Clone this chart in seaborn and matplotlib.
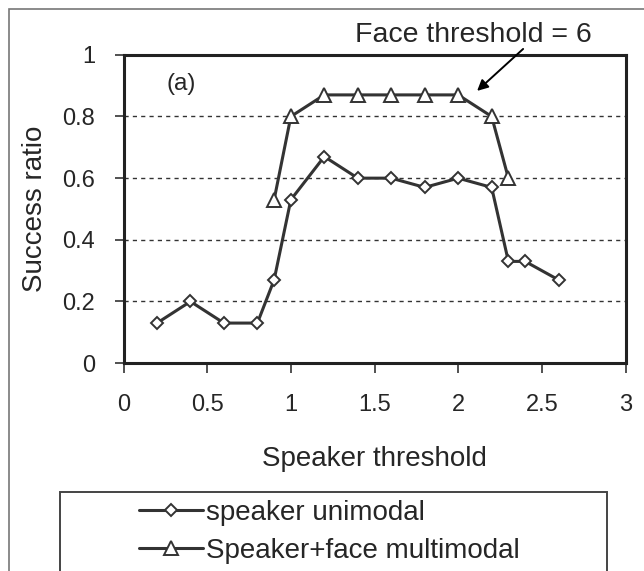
import numpy as np
import pandas as pd
import seaborn as sns
import matplotlib.pyplot as plt
from matplotlib.patches import Rectangle

# Data
uni_x = [0.2, 0.4, 0.6, 0.8, 0.9, 1.0, 1.2, 1.4, 1.6, 1.8, 2.0, 2.2, 2.3, 2.4, 2.6]
uni_y = [0.13, 0.20, 0.13, 0.13, 0.27, 0.53, 0.67, 0.60, 0.60, 0.57, 0.60, 0.57, 0.33, 0.33, 0.27]
multi_x = [0.9, 1.0, 1.2, 1.4, 1.6, 1.8, 2.0, 2.2, 2.3]
multi_y = [0.53, 0.80, 0.87, 0.87, 0.87, 0.87, 0.87, 0.80, 0.60]
x_ticks = [0, 0.5, 1, 1.5, 2, 2.5, 3]
x_tick_labels = ["0", "0.5", "1", "1.5", "2", "2.5", "3"]
y_ticks = [0, 0.2, 0.4, 0.6, 0.8, 1]
y_tick_labels = ["0", "0.2", "0.4", "0.6", "0.8", "1"]

sns.set_style("white")
plt.rcParams['font.family'] = ['Liberation Sans', 'DejaVu Sans']

fig = plt.figure(figsize=(6.44, 5.71), dpi=100)
ax = fig.add_axes([0.1918, 0.364, 0.7795, 0.54])

# Outer frame of the figure
fig.patches.append(Rectangle((9 / 644, -0.1), 1.2, 1.1 - 9 / 571, transform=fig.transFigure,
                             fill=False, edgecolor='#777777', linewidth=1.2, clip_on=False))

line_col = '#333333'
sns.lineplot(x=uni_x, y=uni_y, ax=ax, color=line_col, linewidth=2.2, marker='D',
             markersize=6.5, markerfacecolor='white', markeredgecolor=line_col,
             markeredgewidth=1.4, label='speaker unimodal')
sns.lineplot(x=multi_x, y=multi_y, ax=ax, color=line_col, linewidth=2.2, marker='^',
             markersize=9.5, markerfacecolor='white', markeredgecolor=line_col,
             markeredgewidth=1.4, label='Speaker+face multimodal')

ax.set_xlim(0, 3)
ax.set_ylim(0, 1)
ax.set_xticks(x_ticks)
ax.set_xticklabels(x_tick_labels, fontsize=17)
ax.set_yticks(y_ticks)
ax.set_yticklabels(y_tick_labels, fontsize=17)
ax.tick_params(axis='x', direction='out', length=7, width=1.2, color='#333333', pad=15,
               bottom=True)
ax.tick_params(axis='y', direction='out', length=6.5, width=1.2, color='#333333', pad=14,
               left=True)

# Dashed gridlines
for yv in y_ticks[1:-1]:
    ax.axhline(yv, color='#333333', linestyle=(0, (3, 3)), linewidth=1.0, zorder=0)

for sp in ax.spines.values():
    sp.set_visible(True)
    sp.set_color('#222222')
    sp.set_linewidth(2.2)

ax.set_xlabel("Speaker threshold", fontsize=20, labelpad=22)
ax.set_ylabel("Success ratio", fontsize=20, labelpad=10)

ax.text(0.344, 0.905, "(a)", fontsize=17.5, ha='center', va='center')
ax.text(2.092, 1.065, "Face threshold = 6", fontsize=20.5, ha='center', va='center')
ax.annotate("", xy=(2.113, 0.883), xytext=(2.388, 1.019), annotation_clip=False,
            arrowprops=dict(arrowstyle='-|>', color='black', lw=1.4,
                            shrinkA=0, shrinkB=0, mutation_scale=16))

# Legend with its box at the bottom
handles, labels = ax.get_legend_handles_labels()
ax.get_legend().remove()
fig.patches.append(Rectangle((60 / 644, -0.1), 547 / 644, 0.1 + (571 - 492) / 571,
                             transform=fig.transFigure, fill=False, edgecolor='#444444',
                             linewidth=1.4, clip_on=False))
fig.legend(handles, labels, loc='upper left', bbox_to_anchor=(139 / 644, 1 - 500 / 571),
           frameon=False, fontsize=20, handlelength=2.3, handletextpad=0.12,
           labelspacing=0.42, borderaxespad=0, borderpad=0)

fig.savefig("out.png", dpi=100)
